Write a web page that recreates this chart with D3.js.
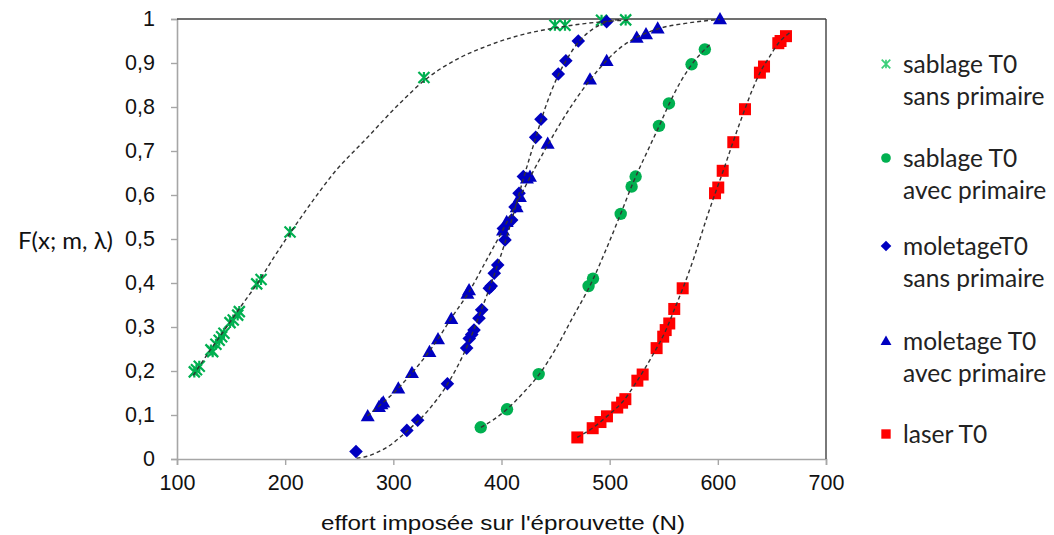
<!DOCTYPE html>
<html>
<head>
<meta charset="utf-8">
<script src="https://cdn.jsdelivr.net/npm/d3@7"></script>
<style>
  html, body { margin: 0; padding: 0; background: #fff; }
  svg { display: block; }
</style>
</head>
<body>
<svg id="chart" width="1054" height="535"></svg>
<script>
// ---------------- DATA ----------------
const xTicks = [100, 200, 300, 400, 500, 600, 700];
const yTicks = [0, 0.1, 0.2, 0.3, 0.4, 0.5, 0.6, 0.7, 0.8, 0.9, 1];
const yTickLabels = ["0", "0,1", "0,2", "0,3", "0,4", "0,5", "0,6", "0,7", "0,8", "0,9", "1"];
const xTitle = "effort imposée sur l'éprouvette (N)";
const yTitle = "F(x; m, λ)";

const seriesNames = [
  ["sablage T0", "sans primaire"],
  ["sablage T0", "avec primaire"],
  ["moletageT0", "sans primaire"],
  ["moletage T0", "avec primaire"],
  ["laser T0"]
];

// measured points [effort, F]
const sablageSansPts = [
  [116, 0.198], [118, 0.203], [120.6, 0.211], [131.4, 0.248], [133, 0.244], [136, 0.261],
  [139, 0.27], [141.3, 0.278], [143.4, 0.286], [149, 0.31], [152, 0.316], [156.1, 0.327],
  [157.6, 0.335], [173.7, 0.398], [177.7, 0.408], [204.5, 0.516], [328.3, 0.867],
  [449.4, 0.986], [458.7, 0.986], [492.5, 0.997], [514.8, 0.998]
];
const sablageAvecPts = [
  [380.8, 0.072], [405.1, 0.113], [434.4, 0.193], [480.5, 0.393], [484.6, 0.41],
  [510.2, 0.557], [520.3, 0.619], [524, 0.642], [545.6, 0.757], [554.8, 0.808],
  [575.7, 0.897], [588, 0.931]
];
const moletageSansPts = [
  [265.5, 0.017], [312.5, 0.065], [322.5, 0.088], [350, 0.171], [367.8, 0.252],
  [370.2, 0.274], [372.5, 0.283], [374.6, 0.293], [379.2, 0.32], [381.7, 0.339],
  [388.7, 0.388], [390.5, 0.393], [393.3, 0.422], [396.5, 0.441], [403.2, 0.498],
  [401.7, 0.524], [409.4, 0.543], [412.5, 0.573], [416.2, 0.604], [420.2, 0.642],
  [431.6, 0.731], [436.5, 0.772], [452.5, 0.875], [459.5, 0.905], [471, 0.95], [497.2, 0.994]
];
const moletageAvecPts = [
  [276.3, 0.098], [286.7, 0.119], [289, 0.125], [290.7, 0.129], [304.6, 0.161],
  [317.2, 0.196], [333.4, 0.244], [341.3, 0.273], [353.6, 0.319], [368.5, 0.376],
  [370, 0.384], [401.4, 0.52], [404.8, 0.539], [414, 0.573], [417, 0.596],
  [423.5, 0.638], [426.3, 0.642], [442.7, 0.717], [481.8, 0.863], [497.2, 0.905],
  [525, 0.958], [533.6, 0.966], [544.4, 0.979], [602, 1.0]
];
const laserPts = [
  [470.1, 0.049], [484.3, 0.07], [491.5, 0.084], [497.5, 0.097], [507, 0.117],
  [511.5, 0.128], [514.5, 0.136], [525.6, 0.178], [530.5, 0.192], [543.4, 0.252],
  [549.5, 0.278], [551.8, 0.293], [555.1, 0.308], [559.7, 0.341], [567.5, 0.388],
  [597.4, 0.604], [600.4, 0.617], [604.5, 0.655], [614.3, 0.72], [625.1, 0.795],
  [638.9, 0.878], [642.7, 0.892], [655.9, 0.945], [658, 0.95], [663, 0.961]
];

// fitted Weibull curves (dashed)
const sablageSansCurve = [
  [115, 0.19], [130, 0.245], [145, 0.297], [160, 0.35], [176, 0.405], [190, 0.46],
  [205, 0.515], [225, 0.585], [245, 0.65], [275, 0.728], [305, 0.806], [330, 0.863],
  [360, 0.91], [386, 0.938], [417, 0.963], [448, 0.979], [475, 0.989], [500, 0.995], [520, 0.998]
];
const sablageAvecCurve = [
  [381, 0.072], [393, 0.09], [405, 0.113], [420, 0.15], [435, 0.193], [450, 0.25],
  [465, 0.318], [483, 0.4], [497, 0.478], [510, 0.556], [522, 0.63], [535, 0.7],
  [546, 0.758], [555, 0.807], [565, 0.855], [576, 0.897], [588, 0.931], [593, 0.943]
];
const moletageSansCurve = [
  [266, 0.002], [274, 0.005], [285, 0.015], [295, 0.028], [312, 0.062], [332, 0.11],
  [350, 0.17], [368, 0.255], [380, 0.33], [392, 0.41], [403, 0.49], [412, 0.565],
  [420, 0.635], [431, 0.725], [440, 0.795], [452, 0.87], [462, 0.915], [472, 0.95],
  [485, 0.978], [497, 0.993], [510, 0.999]
];
const moletageAvecCurve = [
  [276, 0.098], [290, 0.127], [305, 0.162], [317, 0.195], [333, 0.244], [341, 0.272],
  [353, 0.318], [370, 0.38], [385, 0.447], [400, 0.515], [410, 0.562], [420, 0.61],
  [430, 0.657], [443, 0.715], [460, 0.785], [482, 0.862], [497, 0.905], [510, 0.935],
  [525, 0.958], [545, 0.978], [570, 0.99], [602, 0.999]
];
const laserCurve = [
  [470, 0.049], [484, 0.07], [498, 0.098], [512, 0.13], [526, 0.18], [540, 0.237],
  [552, 0.293], [560, 0.341], [568, 0.39], [578, 0.458], [590, 0.55], [598, 0.607],
  [605, 0.655], [614, 0.72], [625, 0.795], [632, 0.84], [640, 0.883], [648, 0.915],
  [656, 0.945], [663, 0.962], [667, 0.97]
];

const seriesColors = ["#00B050", "#00B050", "#0000C0", "#0000C0", "#FF0000"];
const seriesShapes = ["star", "circle", "diamond", "triangle", "square"];

// ---------------- DRAW ----------------
const svg = d3.select("#chart");
const plot = { left: 177, right: 826, top: 19, bottom: 459 };

const x = d3.scaleLinear().domain([100, 700]).range([plot.left, plot.right]);
const y = d3.scaleLinear().domain([0, 1]).range([plot.bottom, plot.top]);

const tickFont = "'Liberation Sans', Arial, sans-serif";
const labelFont = "Lato, 'Open Sans', sans-serif";

// axes
const xAxis = svg.append("g")
  .attr("transform", `translate(0,${plot.bottom})`)
  .call(d3.axisBottom(x).tickValues(xTicks).tickSize(6).tickPadding(10).tickFormat(d3.format("d")));
const yAxis = svg.append("g")
  .attr("transform", `translate(${plot.left},0)`)
  .call(d3.axisLeft(y).tickValues(yTicks).tickSize(6).tickPadding(16)
    .tickFormat((d, i) => yTickLabels[i]));

[xAxis, yAxis].forEach(g => {
  g.select(".domain").attr("stroke", "#a6a6a6").attr("stroke-width", 1.6);
  g.selectAll(".tick line").attr("stroke", "#a6a6a6").attr("stroke-width", 1.4);
  g.selectAll(".tick text").attr("fill", "#111").style("font-family", tickFont).style("font-size", "21.5px");
});

// top and right border
svg.append("line").attr("x1", plot.left).attr("x2", plot.right).attr("y1", plot.top).attr("y2", plot.top)
  .attr("stroke", "#404040").attr("stroke-width", 1.6);
svg.append("line").attr("x1", plot.right).attr("x2", plot.right).attr("y1", plot.top).attr("y2", plot.bottom)
  .attr("stroke", "#404040").attr("stroke-width", 1.4);

// marker drawing
function drawMarker(g, shape, color, cx, cy, scale) {
  const s = scale || 1;
  if (shape === "star") {
    const r = 5.5 * s;
    g.append("path")
      .attr("d", `M${cx - r},${cy - r}L${cx + r},${cy + r}M${cx - r},${cy + r}L${cx + r},${cy - r}M${cx},${cy - r}L${cx},${cy + r}`)
      .attr("stroke", color).attr("stroke-width", 2.2 * s).attr("fill", "none");
  } else if (shape === "circle") {
    g.append("circle").attr("cx", cx).attr("cy", cy).attr("r", 6.2 * s).attr("fill", color);
  } else if (shape === "diamond") {
    const r = 6.8 * s;
    g.append("path").attr("d", `M${cx},${cy - r}L${cx + r},${cy}L${cx},${cy + r}L${cx - r},${cy}Z`).attr("fill", color);
  } else if (shape === "triangle") {
    const r = 7 * s;
    g.append("path").attr("d", `M${cx},${cy - r}L${cx + r},${cy + r * 0.75}L${cx - r},${cy + r * 0.75}Z`).attr("fill", color);
  } else if (shape === "square") {
    const r = 6 * s;
    g.append("rect").attr("x", cx - r).attr("y", cy - r).attr("width", 2 * r).attr("height", 2 * r).attr("fill", color);
  }
}

const pointSets = [sablageSansPts, sablageAvecPts, moletageSansPts, moletageAvecPts, laserPts];
const curveSets = [sablageSansCurve, sablageAvecCurve, moletageSansCurve, moletageAvecCurve, laserCurve];

const markersG = svg.append("g");
pointSets.forEach((pts, i) => {
  pts.forEach(p => drawMarker(markersG, seriesShapes[i], seriesColors[i], x(p[0]), y(p[1]), 1));
});

const line = d3.line().x(d => x(d[0])).y(d => y(d[1])).curve(d3.curveMonotoneX);
const curvesG = svg.append("g");
curveSets.forEach(c => {
  curvesG.append("path").attr("d", line(c)).attr("fill", "none")
    .attr("stroke", "#333").attr("stroke-width", 1.4).attr("stroke-dasharray", "4,3");
});

// axis titles
svg.append("text").attr("x", 503).attr("y", 530).attr("text-anchor", "middle")
  .style("font-family", tickFont).style("font-size", "20.5px").attr("fill", "#111")
  .attr("textLength", 364).attr("lengthAdjust", "spacingAndGlyphs").text(xTitle);
svg.append("text").attr("x", 18).attr("y", 249).attr("text-anchor", "start")
  .style("font-family", labelFont).style("font-size", "24px").attr("fill", "#111").text(yTitle);

// legend
const legendYs = [64, 158, 246, 341, 434];
const legend = svg.append("g");
seriesNames.forEach((lines, i) => {
  drawMarker(legend, seriesShapes[i], i === 0 ? "#3ccf7a" : seriesColors[i], 886, legendYs[i], 0.78);
  lines.forEach((t, j) => {
    legend.append("text").attr("x", 903).attr("y", legendYs[i] + 9 + j * 32)
      .style("font-family", labelFont).style("font-size", "24.5px").attr("fill", "#222").text(t);
  });
});
</script>
</body>
</html>
